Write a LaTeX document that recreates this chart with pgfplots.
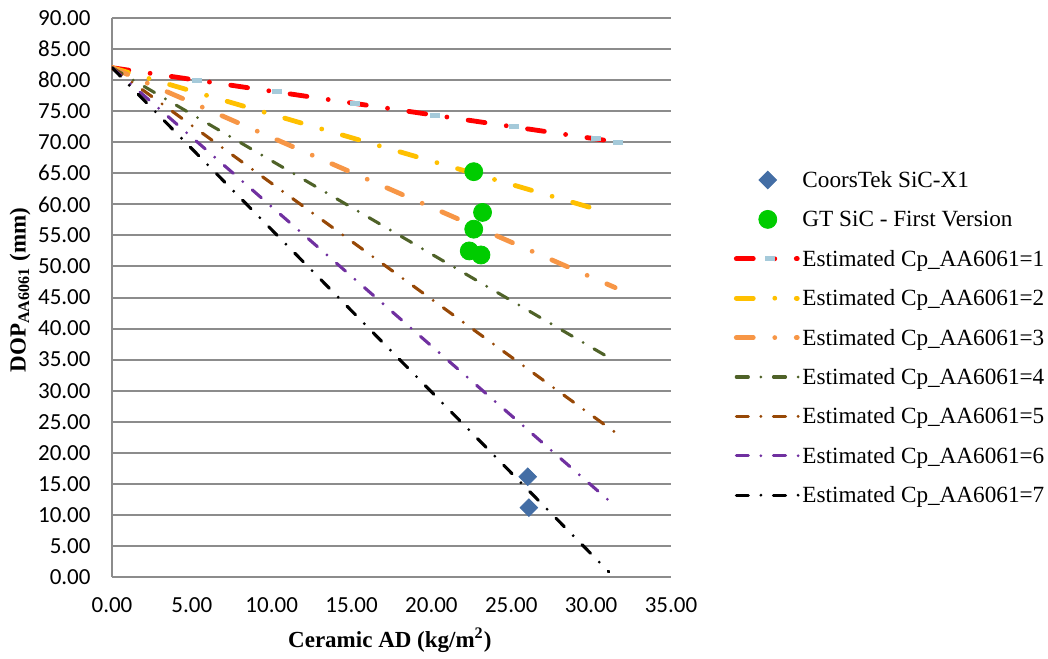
\documentclass[border=0pt]{standalone}
\usepackage{fontspec}
\setmainfont{Liberation Serif}
\newfontfamily\tickfont{Carlito}
\usepackage{pgfplots}
\pgfplotsset{compat=1.18}
\definecolor{gridgray}{RGB}{140,140,140}
\definecolor{cred}{RGB}{255,0,0}
\definecolor{cblue}{RGB}{165,202,218}
\definecolor{cyellow}{RGB}{255,192,0}
\definecolor{corange}{RGB}{247,150,70}
\definecolor{cgreen}{RGB}{79,98,40}
\definecolor{cbrown}{RGB}{151,72,6}
\definecolor{cpurple}{RGB}{112,48,160}
\definecolor{cdiam}{RGB}{68,110,165}
\definecolor{ccirc}{RGB}{0,204,0}
\tikzset{
  thickdd/.style={line width=2.4pt, line cap=round, dash pattern=on 8.5pt off 10.75pt on 0pt off 10.75pt},
  thindd/.style={line width=1.55pt, line cap=round, dash pattern=on 6pt off 6.3pt on 0pt off 6.3pt},
}
\pgfplotsset{
  lineleg/.style={legend image code/.code={\draw[mark repeat=2,mark phase=2] plot coordinates {(0pt,0pt) (15.75pt,0pt) (30.5pt,0pt)};}},
  thinleg/.style={legend image code/.code={\draw[mark repeat=2,mark phase=2] plot coordinates {(0pt,0pt) (15.75pt,0pt) (31.2pt,0pt)};}},
  markleg/.style={legend image code/.code={\draw plot coordinates {(15.75pt,0pt)};}},
  firstleg/.style={legend image code/.code={\draw[mark indices={2}] plot coordinates {(0pt,0pt) (17pt,0pt) (30.5pt,0pt)};}},
}
\begin{document}
\begin{tikzpicture}
\path[use as bounding box] (-56pt,-40.5pt) rectangle (468pt,288.5pt);
\begin{axis}[
  at={(0pt,0pt)}, anchor=south west,
  scale only axis, width=279.5pt, height=279.5pt,
  xmin=0, xmax=35, ymin=0, ymax=90,
  xtick distance=5, ytick distance=5,
  axis lines=left,
  axis line style={-, draw=gridgray, line width=1pt},
  ymajorgrids, major grid style={draw=gridgray, line width=1pt},
  major tick length=0pt,
  /pgf/number format/fixed, /pgf/number format/fixed zerofill,
  /pgf/number format/precision=2, /pgf/number format/assume math mode=true,
  tick label style={font=\tickfont\fontsize{11.5}{13}\selectfont, text=black},
  xticklabel style={yshift=-7pt},
  yticklabel style={xshift=-7.2pt},
  xlabel={Ceramic AD (kg/m\textsuperscript{2})},
  ylabel={DOP\textsubscript{AA6061} (mm)},
  label style={font=\bfseries\fontsize{11.5}{14}\selectfont},
  xlabel style={at={(axis description cs:0.497,-0.1127)}, anchor=center},
  ylabel style={at={(axis description cs:-0.1646,0.5134)}, anchor=center, rotate=0},
  legend cell align=left,
  legend style={draw=none, fill=none, at={(1.1125,0.7308)}, anchor=north west,
    inner sep=0pt, outer sep=0pt, row sep=8.2pt, column sep=1.1pt,
    font=\fontsize{11.6}{14}\selectfont,
    /tikz/every even column/.append style={nodes={text height=9.5pt, text depth=2pt, inner sep=0pt}}},
]
\addplot[markleg, only marks, mark=square*, mark size=3.1pt, mark options={rotate=45, fill=cdiam, draw=cdiam}]
  coordinates {(26.03,16.15) (26.10,11.16)};
\addlegendentry{CoorsTek SiC-X1}
\addplot[markleg, only marks, mark=*, mark size=4.5pt, mark options={fill=ccirc, draw=ccirc}]
  coordinates {(22.65,65.26) (23.20,58.70) (22.65,56.00) (22.37,52.50) (23.10,51.85)};
\addlegendentry{GT SiC - First Version}
\addplot[firstleg, thickdd, color=cred, mark=-, mark size=2.5pt, mark indices={2,3,4,5,6,7,8},
  mark options={solid, draw=cblue, line width=2.5pt, line cap=butt}]
  coordinates {(0,82) (5.3,79.99) (10.3,78.10) (15.2,76.25) (20.2,74.35) (25.2,72.46) (30.3,70.53) (31.7,70.0)};
\addlegendentry{Estimated Cp\_AA6061=1}
\addplot[lineleg, thickdd, color=cyellow, mark=none] coordinates {(0,82) (31.07,58.65)};
\addlegendentry{Estimated Cp\_AA6061=2}
\addplot[lineleg, thickdd, color=corange, mark=none] coordinates {(0,82) (31.5,46.6)};
\addlegendentry{Estimated Cp\_AA6061=3}
\addplot[thinleg, thindd, color=cgreen, mark=none] coordinates {(0,82) (31.4,34.9)};
\addlegendentry{Estimated Cp\_AA6061=4}
\addplot[thinleg, thindd, color=cbrown, mark=none] coordinates {(0,82) (31.5,23.3)};
\addlegendentry{Estimated Cp\_AA6061=5}
\addplot[thinleg, thindd, color=cpurple, mark=none] coordinates {(0,82) (31.07,12.4)};
\addlegendentry{Estimated Cp\_AA6061=6}
\addplot[thinleg, thindd, color=black, mark=none] coordinates {(0,82) (31.1,0.85)};
\addlegendentry{Estimated Cp\_AA6061=7}
\end{axis}
\end{tikzpicture}
\end{document}
